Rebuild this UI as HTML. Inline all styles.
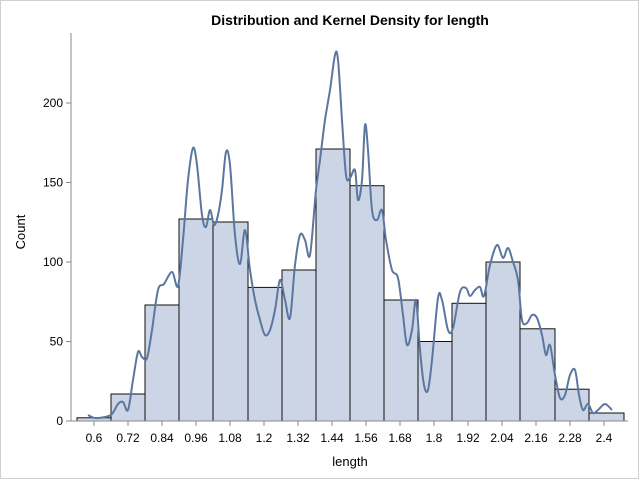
<!DOCTYPE html>
<html><head><meta charset="utf-8"><style>
html,body{margin:0;padding:0;background:#fff}
svg{display:block;font-family:"Liberation Sans",Arial,sans-serif}
</style></head><body>
<svg width="640" height="480" viewBox="0 0 640 480" xmlns="http://www.w3.org/2000/svg">
<rect x="0.5" y="0.5" width="638" height="478" fill="#fff" stroke="#d0d0d0"/>
<text x="350" y="25" text-anchor="middle" font-size="14" font-weight="bold" fill="#000">Distribution and Kernel Density for length</text>
<g fill="#cbd5e5" stroke="#111" stroke-width="1">
<rect x="77" y="417.8" width="34" height="3.2"/>
<rect x="111" y="394" width="34" height="27"/>
<rect x="145" y="305" width="34" height="116"/>
<rect x="179" y="219" width="34" height="202"/>
<rect x="213" y="222" width="35" height="199"/>
<rect x="248" y="287.4" width="34" height="133.6"/>
<rect x="282" y="270" width="34" height="151"/>
<rect x="316" y="149" width="34" height="272"/>
<rect x="350" y="185.7" width="34" height="235.3"/>
<rect x="384" y="300" width="34" height="121"/>
<rect x="418" y="341.5" width="34" height="79.5"/>
<rect x="452" y="303.3" width="34" height="117.7"/>
<rect x="486" y="262" width="34" height="159"/>
<rect x="520" y="328.8" width="35" height="92.2"/>
<rect x="555" y="389.2" width="34" height="31.8"/>
<rect x="589" y="413" width="35" height="8"/>
</g>
<path id="kde" fill="none" stroke="#5b77a0" stroke-width="2" stroke-linejoin="round" d="M88,415 L95,418 105,417 112,414 118,404 123,402 128,410 133,380 138,352 142,357 147,358 152,330 158,290 164,284 172,272 178,286 183,240 188,180 193,148 197,165 202,215 206,227 210,210 214,225 218,215 222,190 226,152 230,165 235,235 240,264 245,230 250,270 255,300 260,320 265,335 270,330 275,310 280,280 285,300 290,318 295,265 300,235 305,240 310,255 316,190 320,160 325,120 330,90 335,55 338,60 342,120 346,175 350,178 355,170 358,200 362,180 365,125 368,150 372,210 377,220 382,210 386,240 392,270 398,278 403,315 407,345 412,330 416,300 420,350 424,385 428,390 432,360 438,298 442,300 448,330 453,328 460,292 466,288 470,296 475,290 480,287 484,296 490,265 497,245 503,258 508,248 513,262 518,280 522,320 527,323 532,315 537,318 542,335 546,355 550,345 555,375 560,398 565,395 570,375 575,370 579,395 583,410 588,404 593,413 598,410 605,404 612,410"/>
<g stroke="#888" stroke-width="1">
<line x1="71" y1="33" x2="71" y2="421"/>
<line x1="71" y1="421" x2="628" y2="421"/>
<line x1="66" y1="421" x2="71" y2="421"/><line x1="66" y1="341.5" x2="71" y2="341.5"/><line x1="66" y1="262" x2="71" y2="262"/><line x1="66" y1="182.5" x2="71" y2="182.5"/><line x1="66" y1="103" x2="71" y2="103"/>
<line x1="94" y1="421" x2="94" y2="426"/><line x1="128" y1="421" x2="128" y2="426"/><line x1="162" y1="421" x2="162" y2="426"/><line x1="196" y1="421" x2="196" y2="426"/><line x1="230" y1="421" x2="230" y2="426"/><line x1="264" y1="421" x2="264" y2="426"/><line x1="298" y1="421" x2="298" y2="426"/><line x1="332" y1="421" x2="332" y2="426"/><line x1="366" y1="421" x2="366" y2="426"/><line x1="400" y1="421" x2="400" y2="426"/><line x1="434" y1="421" x2="434" y2="426"/><line x1="468" y1="421" x2="468" y2="426"/><line x1="502" y1="421" x2="502" y2="426"/><line x1="536" y1="421" x2="536" y2="426"/><line x1="570" y1="421" x2="570" y2="426"/><line x1="604" y1="421" x2="604" y2="426"/>
</g>
<g font-size="12" fill="#000" text-anchor="end">
<text x="63" y="425">0</text><text x="63" y="345.5">50</text><text x="63" y="266">100</text><text x="63" y="186.5">150</text><text x="63" y="107">200</text>
</g>
<g font-size="12" fill="#000" text-anchor="middle">
<text x="94" y="442">0.6</text><text x="128" y="442">0.72</text><text x="162" y="442">0.84</text><text x="196" y="442">0.96</text><text x="230" y="442">1.08</text><text x="264" y="442">1.2</text><text x="298" y="442">1.32</text><text x="332" y="442">1.44</text><text x="366" y="442">1.56</text><text x="400" y="442">1.68</text><text x="434" y="442">1.8</text><text x="468" y="442">1.92</text><text x="502" y="442">2.04</text><text x="536" y="442">2.16</text><text x="570" y="442">2.28</text><text x="604" y="442">2.4</text>
</g>
<text x="350" y="466" text-anchor="middle" font-size="13" fill="#000">length</text>
<text x="25" y="232" text-anchor="middle" font-size="13" fill="#000" transform="rotate(-90 25 232)">Count</text>
</svg>
<script>
(function(){
var p=document.getElementById('kde');
var nums=p.getAttribute('d').replace(/[ML]/g,' ').trim().split(/[\s,]+/).map(Number);
var pts=[];for(var i=0;i<nums.length;i+=2)pts.push([nums[i],nums[i+1]]);
var d='M'+pts[0][0]+','+pts[0][1];
for(var i=0;i<pts.length-1;i++){
var p0=pts[i-1]||pts[i],p1=pts[i],p2=pts[i+1],p3=pts[i+2]||p2;
var c1x=p1[0]+(p2[0]-p0[0])/6,c1y=p1[1]+(p2[1]-p0[1])/6;
var c2x=p2[0]-(p3[0]-p1[0])/6,c2y=p2[1]-(p3[1]-p1[1])/6;
d+=' C'+c1x.toFixed(1)+','+c1y.toFixed(1)+' '+c2x.toFixed(1)+','+c2y.toFixed(1)+' '+p2[0]+','+p2[1];
}
p.setAttribute('d',d);
})();
</script>
</body></html>
